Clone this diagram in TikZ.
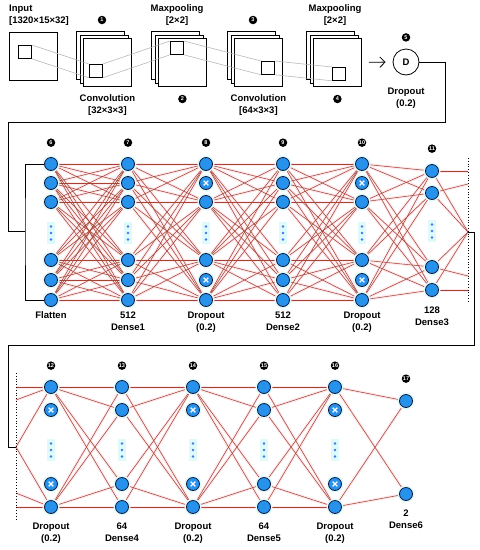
\documentclass[tikz,border=0pt]{standalone}
\usepackage{fontspec}
\setmainfont{Liberation Sans}
\usetikzlibrary{positioning, calc, arrows.meta}
\pgfdeclarelayer{wires}
\pgfsetlayers{wires,main}
\definecolor{synred}{RGB}{165,68,52}
\definecolor{synglow}{RGB}{253,232,236}
\definecolor{cellblue}{RGB}{38,146,236}
\definecolor{cellrim}{RGB}{20,24,60}
\definecolor{cellhalo}{RGB}{222,250,250}
\definecolor{dotblue}{RGB}{70,120,225}
\tikzset{
  > = {Straight Barb[length = 1.8mm]},
  txt/.style = {font = \fontsize{9.5}{12}\selectfont\bfseries, align = center, inner sep = 0},
  badge/.style = {circle, fill = black, text = white, inner sep = 0, minimum size = 8.5pt,
    font = \fontsize{5.5}{5.5}\selectfont\bfseries},
  fmap/.style = {draw, line width = 0.8pt, fill = white, minimum size = 48pt, inner sep = 0},
  window/.style = {draw, line width = 0.8pt, minimum size = 13pt, inner sep = 0},
  stride/.style = {draw = gray!55, line width = 0.6pt},
  gate/.style = {draw, circle, line width = 0.8pt, minimum size = 26pt, inner sep = 0,
    font = \fontsize{9.5}{12}\selectfont\bfseries},
  neuron/.style = {circle, draw = cellrim, line width = 0.8pt, fill = cellblue,
    minimum size = 13pt, inner sep = 0, preaction = {draw = cellhalo, line width = 4pt}},
  dropped/.style = {neuron, path picture = {
    \draw [white, line width = 1.3pt] (path picture bounding box.center)
      +(-2.3,-2.3) -- +(2.3,2.3) +(-2.3,2.3) -- +(2.3,-2.3);}},
  synapse/.style = {draw = synred, line width = 0.55pt},
  glow/.style = {draw = synglow, line width = 3pt},
  flow/.style = {draw, line width = 0.8pt},
  cut/.style = {draw, dotted, line width = 0.8pt}
}
\newcommand\linklayers[5]{%
  \foreach \i in {#3}{\foreach \j in {#5}{\draw [#1] (n#2-\i.center) -- (n#4-\j.center);}}}

\begin{document}
\begin{tikzpicture}[x = 1pt, y = -1pt]
\useasboundingbox (0,0) rectangle (480,550);

%% Feature maps
\node [fmap, anchor = north west] (input) at (9,32) {};
\foreach \nm/\fx in {conv1/83, pool1/158, conv2/234, pool2/313}{
  \foreach \k in {2,1}
    \node [fmap, anchor = north west] (\nm-\k) at (\fx-3.5*\k, 38-3.5*\k) {};
  \node [fmap, anchor = north west] (\nm) at (\fx,38) {};
}
\foreach \w/\wx/\wy in {w0/18/45, w1/89/64, w2/170/41, w3/261/61, w4/332/67}
  \node [window, anchor = north west] (\w) at (\wx,\wy) {};
\foreach \a/\b in {w0/w1, w1/w2, w2/w3, w3/w4}
  \draw [stride] (\a.north east) -- (\b.north west) (\a.south east) -- (\b.south west);

\node [txt, anchor = west, align = left] (inlab) at (9,15.5) {Input\\{}[1320×15×32]};
\node [txt, below = 7.5pt of conv1] (conv1lab) {Convolution\\{}[32×3×3]};
\node [txt, below = 7.5pt of conv2] (conv2lab) {Convolution\\{}[64×3×3]};
\node [txt] (pool1lab) at (177,15.5) {Maxpooling\\{}[2×2]};
\node [txt] (pool2lab) at (335,15.5) {Maxpooling\\{}[2×2]};
\node [badge] (b1) at (102,20) {1};
\node [badge, below = 7.75pt of pool1] (b2) {2};
\node [badge] (b3) at (253,20) {3};
\node [badge, below = 7.75pt of pool2] (b4) {4};

%% Dropout gate
\node [gate] (drop) at (406,62) {D};
\node [badge, above = 6.75pt of drop] (b5) {5};
\node [txt, below = 12.5pt of drop] (droplab) {Dropout\\(0.2)};
\draw [flow, ->, shorten < = 7pt, shorten > = 7pt] (pool2.east) -- (drop.west);

%% Dense block 1
\foreach \c/\x in {6/51, 7/128, 8/206, 9/283, 10/362}
  \foreach \r/\y in {1/164, 3/202, 4/260, 6/300}
    \node [neuron] (n\c-\r) at (\x,\y) {};
\foreach \c/\x in {6/51, 7/128, 9/283}
  \foreach \r/\y in {2/183, 5/280}
    \node [neuron] (n\c-\r) at (\x,\y) {};
\foreach \c/\x in {8/206, 10/362}
  \foreach \r/\y in {2/183, 5/280}
    \node [dropped] (n\c-\r) at (\x,\y) {};
\foreach \r/\y in {1/171, 2/193, 3/267, 4/290}
  \node [neuron] (n11-\r) at (432,\y) {};

%% Dense block 2
\foreach \c/\x in {12/51, 13/122, 14/193, 15/264, 16/335}
  \foreach \r/\y in {1/387, 4/507}
    \node [neuron] (n\c-\r) at (\x,\y) {};
\foreach \c/\x in {13/122, 15/264}
  \foreach \r/\y in {2/410, 3/484}
    \node [neuron] (n\c-\r) at (\x,\y) {};
\foreach \c/\x in {12/51, 14/193, 16/335}
  \foreach \r/\y in {2/410, 3/484}
    \node [dropped] (n\c-\r) at (\x,\y) {};
\node [neuron] (n17-1) at (406,401) {};
\node [neuron] (n17-2) at (406,494) {};

%% Ellipses
\foreach \x/\y in {51/233, 128/233, 206/233, 283/233, 362/233, 432/231,
                   51/450, 122/450, 193/450, 264/450, 335/450}{
  \fill [cellhalo] (\x-4,\y-11) rectangle (\x+4,\y+11);
  \foreach \d in {-6.5,0,6.5}
    \fill [dotblue] (\x,\y+\d) circle [radius = 1.4pt];
}

%% Numbers and labels
\foreach \c in {6,...,10}
  \node [badge, above = 10pt of n\c-1] (b\c) {\c};
\node [badge, above = 11pt of n11-1] (b11) {11};
\foreach \c in {12,...,16}
  \node [badge, above = 10pt of n\c-1] (b\c) {\c};
\node [badge, above = 11pt of n17-1] (b17) {17};

\node [txt, below = 5pt of n6-6] (lab6) {Flatten};
\node [txt, below = 5pt of n7-6] (lab7) {512\\Dense1};
\node [txt, below = 5pt of n8-6] (lab8) {Dropout\\(0.2)};
\node [txt, below = 5pt of n9-6] (lab9) {512\\Dense2};
\node [txt, below = 5pt of n10-6] (lab10) {Dropout\\(0.2)};
\node [txt, below = 10pt of n11-4] (lab11) {128\\Dense3};
\node [txt, below = 9pt of n12-4] (lab12) {Dropout\\(0.2)};
\node [txt, below = 9pt of n13-4] (lab13) {64\\Dense4};
\node [txt, below = 9pt of n14-4] (lab14) {Dropout\\(0.2)};
\node [txt, below = 9pt of n15-4] (lab15) {64\\Dense5};
\node [txt, below = 9pt of n16-4] (lab16) {Dropout\\(0.2)};
\node [txt, below = 9pt of n17-2] (lab17) {2\\Dense6};

%% Flow between blocks
\coordinate (bus6) at (25,231);
\coordinate (cutR) at (468,232);
\coordinate (cutL) at (16,447);
\draw [flow] (drop.east) -| (445,122) -| (8,231) -- (bus6);
\draw [flow] (n6-1.west) -| (bus6) |- (n6-6.west);
\draw [flow] (cutR) -- ++(6,0) |- (8,345) |- (cutL);
\draw [cut] (468,158) -- (468,303);
\draw [cut] (16,373) -- (16,520);

\coordinate (r1) at (468,171);
\coordinate (r2) at (468,184);
\coordinate (r3) at (468,276);
\coordinate (r4) at (468,290);
\coordinate (l1) at (16,387);
\coordinate (l2) at (16,400);
\coordinate (l3) at (16,493);
\coordinate (l4) at (16,507);

%% Weights
\begin{pgfonlayer}{wires}
  \foreach \sty in {glow, synapse}{
    \linklayers{\sty}{6}{1,...,6}{7}{1,...,6}
    \linklayers{\sty}{7}{1,...,6}{8}{1,3,4,6}
    \linklayers{\sty}{8}{1,3,4,6}{9}{1,...,6}
    \linklayers{\sty}{9}{1,...,6}{10}{1,3,4,6}
    \linklayers{\sty}{10}{1,3,4,6}{11}{1,...,4}
    \linklayers{\sty}{12}{1,4}{13}{1,...,4}
    \linklayers{\sty}{13}{1,...,4}{14}{1,4}
    \linklayers{\sty}{14}{1,4}{15}{1,...,4}
    \linklayers{\sty}{15}{1,...,4}{16}{1,4}
    \linklayers{\sty}{16}{1,4}{17}{1,2}
    \foreach \a/\b in {n11-1/r1, n11-1/cutR, n11-2/r2, n11-2/cutR,
                       n11-3/cutR, n11-3/r3, n11-4/cutR, n11-4/r4}
      \draw [\sty] (\a.center) -- (\b);
    \foreach \a/\b in {l1/n12-1, l2/n12-1, cutL/n12-1, cutL/n12-4,
                       l3/n12-4, l4/n12-4}
      \draw [\sty] (\a) -- (\b.center);
  }
\end{pgfonlayer}

\end{tikzpicture}
\end{document}
